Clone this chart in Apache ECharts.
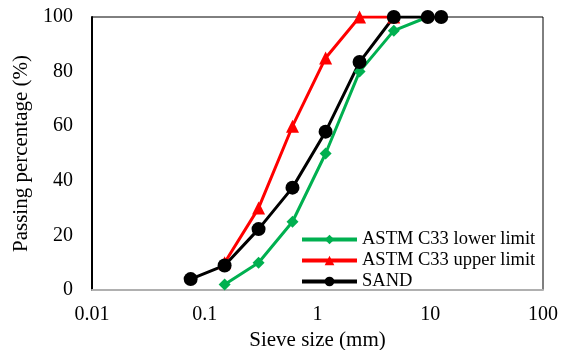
<!DOCTYPE html>
<html>
<head>
<meta charset="utf-8">
<script src="https://cdn.jsdelivr.net/npm/echarts@6/dist/echarts.min.js"></script>
<style>
  html, body { margin: 0; padding: 0; background: #fff; }
  #chart { width: 566px; height: 350px; }
</style>
</head>
<body>
<div id="chart"></div>
<script>
// sieve sizes (mm) and passing percentages
const lowerSizes = [0.15, 0.3, 0.6, 1.18, 2.36, 4.75, 9.5];
const lowerPass = [2, 10, 25, 50, 80, 95, 100];
const upperSizes = [0.15, 0.3, 0.6, 1.18, 2.36, 4.75];
const upperPass = [10, 30, 60, 85, 100, 100];
const sandSizes = [0.075, 0.15, 0.3, 0.6, 1.18, 2.36, 4.75, 9.5, 12.5];
const sandPass = [4, 9, 22.3, 37.5, 58, 83.5, 100, 100, 100];

const FONT = "'Liberation Serif', 'Times New Roman', serif";
const pairs = (xs, ys) => xs.map((x, i) => [x, ys[i]]);

const chart = echarts.init(document.getElementById("chart"));
chart.setOption({
  animation: false,
  textStyle: { fontFamily: FONT, color: "#000" },
  grid: {
    left: 92, right: 23, top: 17, bottom: 60,
    outerBoundsMode: "none", containLabel: false,
    show: true, borderColor: "#000", borderWidth: 1
  },
  legend: {
    orient: "vertical",
    left: 300, top: 230, padding: 0,
    itemWidth: 55, itemHeight: 12, itemGap: 2,
    lineStyle: { width: 4 },
    textStyle: { fontFamily: FONT, fontSize: 18.5, color: "#000" },
    data: ["ASTM C33 lower limit", "ASTM C33 upper limit", "SAND"]
  },
  xAxis: {
    type: "log", logBase: 10, min: 0.01, max: 100,
    name: "Sieve size (mm)", nameLocation: "middle", nameGap: 37,
    nameTextStyle: { fontFamily: FONT, fontSize: 21, color: "#000" },
    axisLine: { show: true, onZero: false, lineStyle: { color: "#b0b0b0", width: 2 } },
    axisTick: { show: false },
    splitLine: { show: false },
    minorTick: { show: false },
    axisLabel: { fontFamily: FONT, fontSize: 20, color: "#000", margin: 15 }
  },
  yAxis: {
    type: "value", min: 0, max: 100, interval: 20,
    name: "Passing percentage (%)", nameLocation: "middle", nameGap: 56,
    nameTextStyle: { fontFamily: FONT, fontSize: 21, color: "#000" },
    axisLine: { show: true, lineStyle: { color: "#000", width: 2 } },
    axisTick: { show: false },
    splitLine: { show: false },
    axisLabel: { fontFamily: FONT, fontSize: 20, color: "#000", margin: 19 }
  },
  series: [
    {
      name: "ASTM C33 lower limit", type: "line",
      data: pairs(lowerSizes, lowerPass),
      symbol: "diamond", symbolSize: 12,
      lineStyle: { color: "#00b050", width: 3 },
      itemStyle: { color: "#00b050" }
    },
    {
      name: "ASTM C33 upper limit", type: "line",
      data: pairs(upperSizes, upperPass),
      symbol: "triangle", symbolSize: 13,
      lineStyle: { color: "#ff0000", width: 3 },
      itemStyle: { color: "#ff0000" }
    },
    {
      name: "SAND", type: "line",
      data: pairs(sandSizes, sandPass),
      symbol: "circle", symbolSize: 14,
      lineStyle: { color: "#000", width: 3 },
      itemStyle: { color: "#000" }
    }
  ]
});
</script>
</body>
</html>
